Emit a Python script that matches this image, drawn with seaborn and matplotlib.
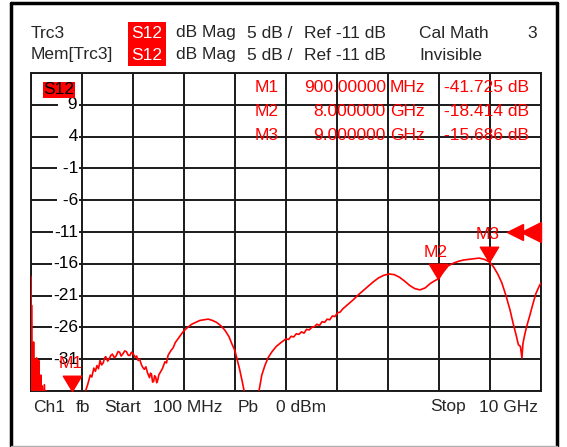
import pandas as pd
import matplotlib.pyplot as plt
import matplotlib.transforms as mtransforms
from matplotlib.lines import Line2D
import seaborn as sns

# trace (GHz, dB)
freq_ghz = [0.10, 0.102, 0.105, 0.11, 0.12, 0.13, 0.14, 0.15, 0.16, 0.17, 0.18, 0.19, 0.20,
            0.21, 0.22, 0.23, 0.24, 0.25, 0.26, 0.27, 0.28, 0.29, 0.30, 0.32, 0.34,
            0.36, 0.38, 0.40, 0.43, 0.50, 0.70, 0.90, 1.05, 1.15,
            1.20, 1.25, 1.28, 1.32, 1.35, 1.38, 1.41, 1.44, 1.47, 1.50, 1.53, 1.55,
            1.59, 1.62, 1.65, 1.68, 1.72, 1.75, 1.79, 1.82, 1.85, 1.88, 1.92, 1.95,
            1.99, 2.02, 2.05, 2.08, 2.12, 2.15, 2.18, 2.21, 2.24, 2.27, 2.30, 2.33,
            2.36, 2.40, 2.42, 2.44, 2.46, 2.48, 2.50, 2.52, 2.54, 2.56, 2.58, 2.60,
            2.65, 2.70, 2.73, 2.76, 2.82, 2.86, 2.90, 2.98, 3.06, 3.14, 3.22,
            3.30, 3.38, 3.46, 3.54, 3.62, 3.70, 3.78, 3.86, 3.94, 4.00, 4.06, 4.10,
            4.15, 4.20, 4.25, 4.32, 4.45, 4.52, 4.58, 4.64, 4.70, 4.78, 4.86, 4.95,
            5.05, 5.10, 5.15, 5.20, 5.25, 5.30, 5.35, 5.40, 5.45, 5.50, 5.55, 5.60,
            5.65, 5.70, 5.75, 5.80, 5.85, 5.90, 5.95, 6.00, 6.05, 6.10, 6.15,
            6.25, 6.35, 6.45, 6.55, 6.65, 6.75, 6.85, 6.95, 7.05, 7.15, 7.25, 7.35,
            7.45, 7.55, 7.65, 7.75, 7.85, 7.93, 8.00, 8.10, 8.20, 8.30, 8.40, 8.50,
            8.60, 8.70, 8.80, 8.90, 9.00, 9.08, 9.16, 9.24, 9.32, 9.40, 9.46, 9.52,
            9.56, 9.60, 9.63, 9.65, 9.68, 9.72, 9.78, 9.84, 9.90, 9.96, 10.00]
s12_db = [-18.0, -21.0, -40.0, -22.5, -38.0, -29.5, -40.0, -28.3, -39.0, -31.0, -38.0, -31.5, -40.0,
          -30.8, -39.0, -33.0, -40.0, -31.2, -38.0, -34.0, -40.0, -33.5, -39.0, -35.2, -40.0,
          -35.0, -40.0, -36.0, -38.0, -42.0, -44.0, -41.7, -39.0, -36.2,
          -35.0, -33.5, -33.8, -32.4, -32.9, -32.0, -32.5, -31.2, -31.9, -31.6, -30.8, -30.6,
          -31.3, -30.9, -30.4, -30.2, -30.8, -30.5, -29.8, -29.9, -30.5, -30.2, -29.7, -29.8,
          -30.4, -30.4, -29.9, -30.1, -30.7, -30.5, -31.2, -31.0, -31.8, -32.3, -32.6, -32.2,
          -33.1, -33.9, -33.2, -33.4, -34.6, -34.5, -33.6, -33.8, -34.7, -34.3, -33.5, -33.2,
          -32.5, -31.4, -31.6, -30.4, -29.6, -29.2, -28.4, -27.5, -26.6, -26.0, -25.5,
          -25.2, -24.9, -24.8, -24.7, -24.9, -25.2, -25.7, -26.4, -27.4, -28.6, -29.7, -31.0,
          -32.6, -34.5, -36.5, -39.0, -39.5, -36.3, -33.5, -32.0, -30.8, -29.8, -29.0, -28.4,
          -27.8, -27.9, -27.4, -27.5, -27.0, -27.1, -26.7, -26.9, -26.3, -26.4, -26.0, -25.9,
          -25.5, -25.7, -25.1, -25.2, -24.7, -24.8, -24.2, -24.3, -23.7, -23.6, -23.1,
          -22.4, -21.7, -20.9, -20.2, -19.5, -18.8, -18.2, -17.8, -17.6, -17.7, -18.1, -18.7,
          -19.4, -19.9, -20.1, -19.8, -19.1, -18.7, -18.4, -17.3, -16.3, -15.9, -15.6, -15.4,
          -15.3, -15.2, -15.1, -15.3, -15.7, -16.5, -17.6, -19.0, -21.0, -23.3, -25.4, -27.3,
          -28.7, -29.0, -30.8, -28.5, -27.3, -25.9, -24.2, -22.4, -20.7, -19.6, -19.0]

marker_names = ["M1", "M2", "M3"]
marker_freq = [0.9, 8.0, 9.0]
marker_db = [-41.725, -18.414, -15.686]
marker_freq_text = ["900.00000", "8.000000", "9.000000"]
marker_unit = ["MHz", "GHz", "GHz"]

ytick_vals = [9, 4, -1, -6, -11, -16, -21, -26, -31]
ref_db = -11
f_start, f_stop = 0.1, 10.0
y_top, y_bottom = 14, -36

RED = "#ff0000"
FS = 12.5
W, H = 567, 447

sns.set_style("white")
plt.rcParams["font.family"] = ["Liberation Sans", "DejaVu Sans"]

fig = plt.figure(figsize=(W / 100, H / 100), dpi=100)


def px(x, y):
    return x / W, 1 - y / H


ax = fig.add_axes([31 / W, 1 - 391 / H, 510 / W, 318 / H])

df = pd.DataFrame({"freq": freq_ghz, "db": s12_db})
sns.lineplot(data=df, x="freq", y="db", ax=ax, color=RED, lw=1.2,
             estimator=None, sort=False, zorder=4)

ax.set_xlim(f_start, f_stop)
ax.set_ylim(y_bottom, y_top)
ax.set_xticks([f_start + i * (f_stop - f_start) / 10 for i in range(11)])
ax.set_yticks([y_bottom + i * 5 for i in range(11)])
ax.grid(True, color="#1a1a1a", lw=1.4)
ax.tick_params(length=0, labelleft=False, labelbottom=False)
ax.set_xlabel("")
ax.set_ylabel("")
for s in ax.spines.values():
    s.set_color("#1a1a1a")
    s.set_linewidth(1.4)

# dB labels sitting on the grid lines
trans = mtransforms.blended_transform_factory(ax.transAxes, ax.transData)
for v in ytick_vals:
    ax.text(0.092, v, f"{v:>3}", transform=trans, ha="right", va="center",
            fontsize=FS, color="black", zorder=5,
            bbox=dict(fc="white", ec="none", pad=0.6))

# trace name tag
fig.text(*px(59, 90), "S12", ha="center", va="center", fontsize=FS, color="black",
         zorder=6, bbox=dict(fc=RED, ec="none", pad=0.5))

# marker triangles (tip on the trace)
tri_down = [(0, 0), (-0.6, 1), (0.6, 1), (0, 0)]
for name, f, d in zip(marker_names, marker_freq, marker_db):
    yd = max(d, y_bottom)
    ax.plot([f], [yd], marker=tri_down, ms=22, color=RED, mec=RED,
            clip_on=False, zorder=6)
    ax.annotate(name, (f, yd), xytext=(-2, 27), textcoords="offset pixels",
                ha="center", va="center", fontsize=FS, color=RED, zorder=6,
                annotation_clip=False)

# reference level arrows on the right edge
ax.plot([0.949], [ref_db], marker="<", ms=12, color=RED, transform=trans,
        clip_on=False, zorder=6)
ax.plot([0.981], [ref_db], marker="<", ms=14, color=RED, transform=trans,
        clip_on=False, zorder=6)

# marker readout table
for i, name in enumerate(marker_names):
    y = 88 + i * 23.5
    fig.text(*px(279, y), name, ha="right", va="center", fontsize=FS, color=RED, zorder=7)
    fig.text(*px(386, y), marker_freq_text[i], ha="right", va="center", fontsize=FS,
             color=RED, zorder=7)
    fig.text(*px(390, y), marker_unit[i], ha="left", va="center", fontsize=FS,
             color=RED, zorder=7)
    fig.text(*px(529, y), f"{marker_db[i]:.3f} dB", ha="right", va="center",
             fontsize=FS, color=RED, zorder=7)

# header lines
for y, first, last in [(33, "Trc3", "Cal Math"), (55, "Mem[Trc3]", "Invisible")]:
    fig.text(*px(31, y), first, ha="left", va="center", fontsize=FS)
    fig.text(*px(147, y), "S12", ha="center", va="center", fontsize=FS, color="white",
             bbox=dict(fc=RED, ec="none", boxstyle="square,pad=0.22"))
    fig.text(*px(176, y), "dB Mag", ha="left", va="center", fontsize=FS)
    fig.text(*px(247, y), "5 dB /", ha="left", va="center", fontsize=FS)
    fig.text(*px(304, y), f"Ref {ref_db} dB", ha="left", va="center", fontsize=FS)
    fig.text(*px(419, y), last, ha="left", va="center", fontsize=FS)
fig.text(*px(537, 33), "3", ha="right", va="center", fontsize=FS)

# footer
for x, s in [(33, "Ch1"), (76, "fb"), (104, "Start"), (153, "100 MHz"),
             (238, "Pb"), (276, "0 dBm"), (430, "Stop")]:
    fig.text(*px(x, 407), s, ha="left", va="center", fontsize=FS)
fig.text(*px(538, 407), "10 GHz", ha="right", va="center", fontsize=FS)

# window frame
fig.add_artist(Line2D([10.5 / W, 10.5 / W], [1 - 446 / H, 1 - 3 / H], color="black", lw=2.5))
fig.add_artist(Line2D([10.5 / W, 557 / W], [1 - 3 / H, 1 - 3 / H], color="black", lw=2.5))
fig.add_artist(Line2D([557 / W, 557 / W], [1 - 446 / H, 1 - 3 / H], color="black", lw=2.5))
fig.add_artist(Line2D([10.5 / W, 557 / W], [1 - 446 / H, 1 - 446 / H], color="#b0b0b0", lw=1))

fig.savefig("out.png", dpi=100)
